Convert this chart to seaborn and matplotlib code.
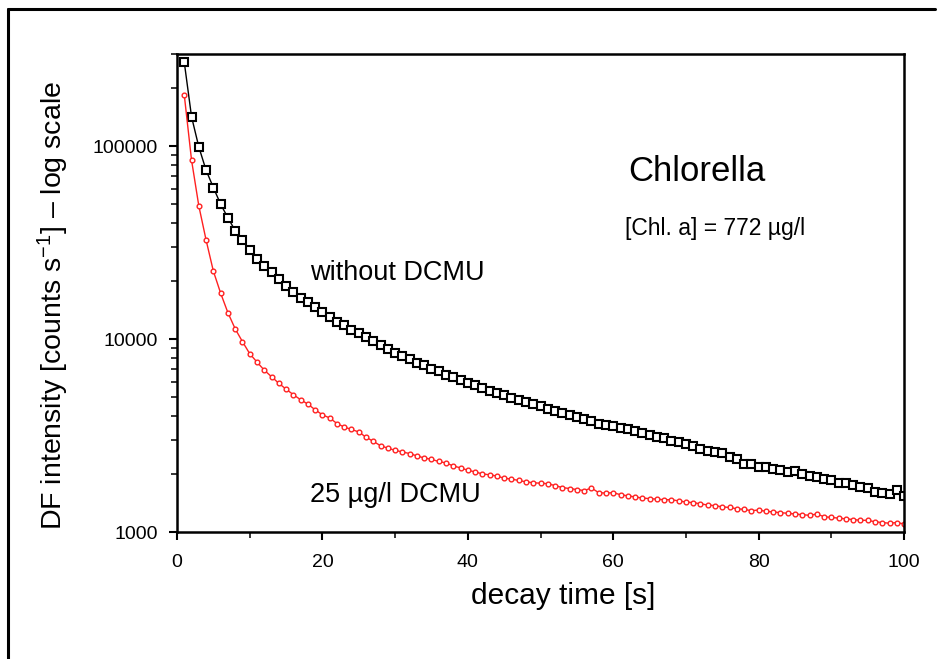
import numpy as np
import matplotlib
matplotlib.use("Agg")
import matplotlib.pyplot as plt
import seaborn as sns
from matplotlib.lines import Line2D
from matplotlib.ticker import FixedLocator, LogLocator, NullFormatter

# decay time [s]
decay_time = list(range(1, 101))

# DF intensity without DCMU (black squares)
without_dcmu = [
    272000, 142000, 99000, 75000, 61000, 50000, 42500, 36500, 32600, 28800,
    25900, 24000, 22300, 20400, 18900, 17600, 16400, 15500, 14600, 13800,
    13000, 12300, 11800, 11200, 10700, 10200, 9750, 9300, 8900, 8500,
    8150, 7850, 7550, 7300, 7000, 6800, 6550, 6350, 6150, 5950,
    5750, 5550, 5400, 5250, 5100, 4950, 4850, 4700, 4600, 4480,
    4350, 4250, 4150, 4020, 3950, 3850, 3770, 3650, 3600, 3550,
    3450, 3400, 3320, 3250, 3180, 3100, 3060, 2970, 2920, 2850,
    2800, 2700, 2640, 2600, 2560, 2450, 2400, 2260, 2250, 2180,
    2160, 2120, 2100, 2050, 2080, 2000, 1960, 1920, 1880, 1850,
    1800, 1790, 1760, 1720, 1690, 1620, 1600, 1580, 1660, 1540,
]

# DF intensity with 25 ug/l DCMU (red circles)
with_dcmu = [
    184000, 84600, 49000, 32600, 22500, 17300, 13700, 11300, 9700, 8400,
    7600, 6900, 6380, 5900, 5500, 5150, 4850, 4600, 4300, 4050,
    3900, 3650, 3500, 3400, 3300, 3100, 2950, 2800, 2720, 2650,
    2600, 2550, 2480, 2420, 2380, 2320, 2280, 2200, 2150, 2090,
    2050, 2000, 1980, 1950, 1900, 1880, 1850, 1820, 1800, 1790,
    1780, 1740, 1700, 1680, 1660, 1640, 1690, 1600, 1590, 1600,
    1560, 1540, 1520, 1500, 1490, 1480, 1470, 1470, 1450, 1430,
    1420, 1400, 1380, 1370, 1350, 1340, 1320, 1310, 1290, 1300,
    1280, 1270, 1260, 1250, 1240, 1230, 1220, 1240, 1200, 1190,
    1180, 1170, 1160, 1150, 1150, 1130, 1120, 1110, 1120, 1100,
]

x_ticks = [0, 20, 40, 60, 80, 100]
y_ticks = [1000, 10000, 100000]
y_tick_labels = ["1000", "10000", "100000"]

sns.set_style("white")
plt.rcParams['font.family'] = ['Liberation Sans', 'DejaVu Sans']
plt.rcParams['mathtext.fontset'] = 'custom'
plt.rcParams['mathtext.rm'] = 'Liberation Sans'
plt.rcParams['mathtext.it'] = 'Liberation Sans'
plt.rcParams['text.color'] = 'black'
plt.rcParams['axes.labelcolor'] = 'black'

fig = plt.figure(figsize=(9.43, 6.59), dpi=100)
ax = fig.add_axes([0.1877, 0.1927, 0.771, 0.7253])

sns.lineplot(x=decay_time, y=without_dcmu, ax=ax, color='black', linewidth=1.0,
             marker='s', markersize=5.3, markerfacecolor='white',
             markeredgecolor='black', markeredgewidth=1.5)
sns.lineplot(x=decay_time, y=with_dcmu, ax=ax, color='#ff2020', linewidth=1.0,
             marker='o', markersize=3.4, markerfacecolor='white',
             markeredgecolor='#ff2020', markeredgewidth=1.0)

ax.set_yscale('log')
ax.set_xlim(0, 100)
ax.set_ylim(1000, 300000)

ax.xaxis.set_major_locator(FixedLocator(x_ticks))
ax.xaxis.set_minor_locator(FixedLocator([10, 30, 50, 70, 90]))
ax.set_yticks(y_ticks)
ax.set_yticklabels(y_tick_labels)
ax.yaxis.set_minor_locator(LogLocator(base=10, subs=np.arange(2, 10)))
ax.yaxis.set_minor_formatter(NullFormatter())

ax.tick_params(axis='both', which='major', direction='out', length=6, width=1.5,
               labelsize=14, colors='black', bottom=True, left=True)
ax.tick_params(axis='x', which='major', pad=10)
ax.tick_params(axis='y', which='major', pad=8)
ax.tick_params(axis='both', which='minor', direction='out', length=4, width=1.3,
               bottom=True, left=True)
for s in ax.spines.values():
    s.set_visible(True)
    s.set_color('black')
    s.set_linewidth(1.8)

ax.set_xlabel('decay time [s]', fontsize=21.5)
ax.set_ylabel('DF intensity [counts s$^{\\mathregular{-1}}$] – log scale', fontsize=20.5)
ax.xaxis.set_label_coords(0.531, -0.104)
ax.yaxis.set_label_coords(-0.146, 0.473)

fig.text(0.329, 0.586, 'without DCMU', fontsize=19.5, va='center')
fig.text(0.329, 0.249, '25 µg/l DCMU', fontsize=19.5, va='center')
fig.text(0.666, 0.739, 'Chlorella', fontsize=25, va='center')
fig.text(0.663, 0.654, '[Chl. a] = 772 µg/l', fontsize=16.5, va='center')

# figure frame
fig.add_artist(Line2D([0.0085, 0.0085], [0.0, 0.986], color='black', linewidth=2.2,
                      transform=fig.transFigure))
fig.add_artist(Line2D([0.0085, 0.992], [0.986, 0.986], color='black', linewidth=2.2,
                      transform=fig.transFigure))

fig.savefig('out.png', dpi=100)
